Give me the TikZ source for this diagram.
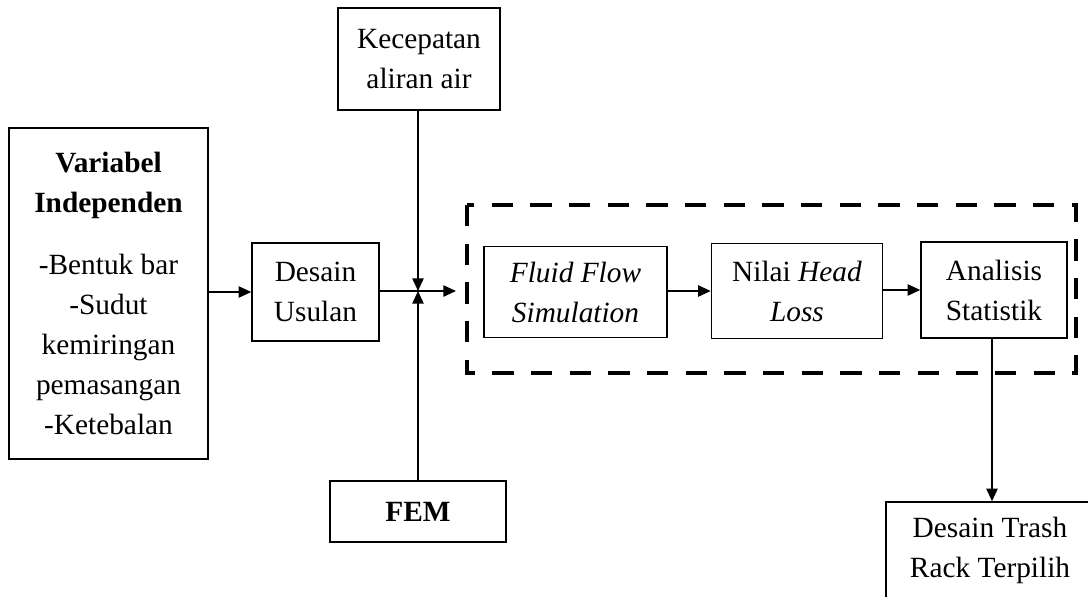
\documentclass[tikz,border=0pt]{standalone}
\usepackage{fontspec}
\setmainfont{Liberation Serif}
\usetikzlibrary{arrows.meta,positioning}

\begin{document}
\begin{tikzpicture}[
  x=0.75pt, y=-0.75pt,
  box/.style={rectangle, draw, line width=1.1pt, inner sep=0pt,
              align=center, font=\fontsize{22}{30}\selectfont},
  arr/.style={-{Triangle[length=9.5pt,width=8.5pt]}, line width=1.1pt},
  dashbox/.style={draw, line width=3pt, dash pattern=on 16pt off 13pt}
]
  \useasboundingbox (0,0) rectangle (1088,596);
  \node[box, minimum width=121.5pt, minimum height=76.5pt] (kec) at (419,59)
    {Kecepatan\\aliran air};
  \node[box, minimum width=132pt, minimum height=45.75pt] (fem) at (418,511.5)
    {\textbf{FEM}};
  \node[box, minimum width=149.25pt, minimum height=248.25pt] (var) at (108.5,293.5)
    {\textbf{Variabel}\\\textbf{Independen}\\[16pt]-Bentuk bar\\-Sudut\\kemiringan\\pemasangan\\-Ketebalan};
  \node[box, minimum width=95.25pt, minimum height=73.5pt] (des) at (315.5,292)
    {Desain\\Usulan};
  \node[box, minimum width=137.25pt, minimum height=68.25pt] (ffs) at (575.5,292)
    {\textit{Fluid Flow}\\\textit{Simulation}};
  \node[box, minimum width=128.25pt, minimum height=71.25pt] (nhl) at (797,291)
    {Nilai \textit{Head}\\\textit{Loss}};
  \node[box, minimum width=109.5pt, minimum height=72pt] (ana) at (994,290)
    {Analisis\\Statistik};
  \node[box, minimum width=156pt, minimum height=72pt] (trash) at (990,550)
    {Desain Trash\\Rack Terpilih};
  % dashed frame round the simulation steps
  \draw[dashbox] (467,205) rectangle (1076,373);
  \coordinate (jn) at (418,291);
  \coordinate (inp) at (456,291);
  \draw[arr] (var.east |- des.west) -- (des.west);
  \draw[arr] (des.east |- jn) -- (inp);
  \draw[arr] (kec.south -| jn) -- (jn);
  \draw[arr] (fem.north -| jn) -- (jn);
  \draw[arr] (ffs.east |- nhl.west) -- (nhl.west);
  \draw[arr] (nhl.east |- ana.west) -- (ana.west);
  \draw[arr] (ana.south -| 992,0) -- (trash.north -| 992,0);
\end{tikzpicture}
\end{document}
